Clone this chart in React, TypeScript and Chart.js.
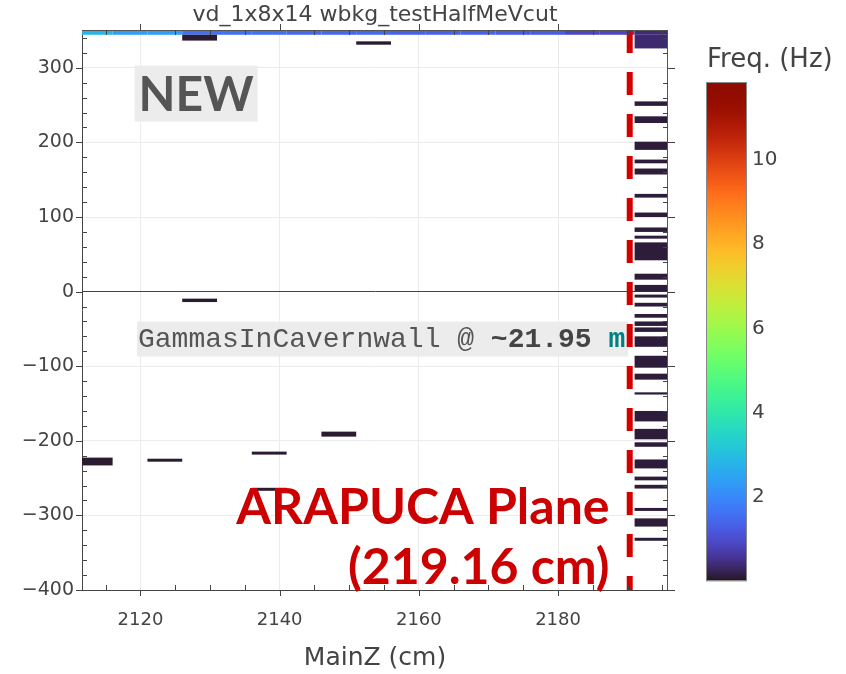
import React, { useEffect, useRef } from "react";
import { Chart, registerables } from "chart.js";
Chart.register(...registerables);

const TITLE = "vd_1x8x14 wbkg_testHalfMeVcut";
const X_TITLE = "MainZ (cm)";
const CB_TITLE = "Freq. (Hz)";
const X_MIN = 2111.6;
const X_MAX = 2195.8;
const Y_MIN = -400;
const Y_MAX = 350.7;
const xTickValues = [2120, 2140, 2160, 2180];
const yTickValues = [-400, -300, -200, -100, 0, 100, 200, 300];
const X_MINOR_STEP = 5;
const Y_MINOR_STEP = 20;
const cbTickValues = [2, 4, 6, 8, 10];
const CB_MIN = 0;
const CB_MAX = 11.85;

// heatmap bin edges along MainZ
const zBinEdges = [2111, 2116, 2121, 2126, 2131, 2136, 2141, 2146, 2151, 2156, 2161, 2166, 2171, 2176, 2181, 2186, 2191, 2196];

// top band (one row across all bins)
const TOP_BAND_LOW = 344.3;
const TOP_BAND_HIGH = 356;
const topBandFreq = [2.8, 2.4, 2.4, 1.6, 1.6, 1.6, 1.45, 1.45, 1.5, 1.35, 1.35, 1.35, 1.25, 1.25, 0.9, 0.9, 0.4];

// isolated cells inside the plot
const cellBin = [3, 8, 3, 0, 2, 5, 7, 5];
const cellYLow = [336.5, 331, -14, -233, -228, -218.5, -194.4, -267];
const cellYHigh = [344.3, 335.5, -9.4, -222.5, -224, -214.5, -187.7, -263];
const cellFreq = [0.08, 0.08, 0.08, 0.08, 0.08, 0.08, 0.08, 0.08];

// wall column (last bin)
const WALL_BIN = 16;
const wallYLow = [326, 249, 226, 190, 172, 157, 126, 100, 80, 71, 42, 16, 0, -8, -20, -35, -46, -54, -74, -102, -118, -138, -174, -198, -208, -237, -253, -264, -294, -315, -334];
const wallYHigh = [344.3, 255, 235, 201, 177, 165, 131, 106, 86, 75, 66, 24, 9, -4, -15, -30, -40, -48, -60, -86, -110, -135, -160, -184, -202, -225, -248, -259, -290, -304, -330];
const wallFreq = [0.35, 0.12, 0.12, 0.12, 0.12, 0.12, 0.12, 0.12, 0.12, 0.12, 0.12, 0.12, 0.12, 0.12, 0.12, 0.12, 0.12, 0.12, 0.12, 0.12, 0.12, 0.12, 0.12, 0.12, 0.12, 0.12, 0.12, 0.12, 0.12, 0.12, 0.12];

// annotations
const PLANE_Z = 2190.3;
const NEW_TEXT = "NEW";
const NEW_POS = { x: 2128.0, y: 265.4 };
const GAMMA_TEXT_A = "GammasInCavernwall @ ";
const GAMMA_TEXT_B = "~21.95";
const GAMMA_TEXT_C = " m";
const GAMMA_POS = { x: 2119.5, y: -64.3 };
const PLANE_LINE1 = "ARAPUCA Plane";
const PLANE_LINE2 = "(219.16 cm)";
const PLANE_POS = { x: 2187.4, y1: -289.5, y2: -370 };

function turbo(t: number) {
  t = Math.max(0, Math.min(1, t));
  const r = 0.13572138 + t * (4.6153926 + t * (-42.66032258 + t * (132.13108234 + t * (-152.94239396 + t * 59.28637943))));
  const g = 0.09140261 + t * (2.19418839 + t * (4.84296658 + t * (-14.18503333 + t * (4.27729857 + t * 2.82956604))));
  const b = 0.1066733 + t * (12.64194608 + t * (-60.58204836 + t * (110.36276771 + t * (-89.90310912 + t * 27.34824973))));
  const c = (v: number) => Math.round(Math.max(0, Math.min(1, v)) * 255);
  return `rgb(${c(r)},${c(g)},${c(b)})`;
}

type Cell = { x: number; y: number; x0: number; x1: number; y0: number; y1: number; v: number };

function buildCells(): Cell[] {
  const out: Cell[] = [];
  const add = (bin: number, y0: number, y1: number, v: number) => {
    const x0 = zBinEdges[bin];
    const x1 = zBinEdges[bin + 1];
    out.push({ x: (x0 + x1) / 2, y: (y0 + y1) / 2, x0, x1, y0, y1, v });
  };
  topBandFreq.forEach((v, i) => add(i, TOP_BAND_LOW, TOP_BAND_HIGH, v));
  cellBin.forEach((b, i) => add(b, cellYLow[i], cellYHigh[i], cellFreq[i]));
  wallYLow.forEach((lo, i) => add(WALL_BIN, lo, wallYHigh[i], wallFreq[i]));
  return out;
}

const FONT = '"DejaVu Sans", Verdana, sans-serif';

const heatmapPlugin = {
  id: "heatmapCells",
  beforeDatasetsDraw(chart: any) {
    const { ctx, chartArea, scales } = chart;
    const xs = scales.x;
    const ys = scales.y;
    ctx.save();
    ctx.beginPath();
    ctx.rect(chartArea.left, chartArea.top, chartArea.right - chartArea.left, chartArea.bottom - chartArea.top);
    ctx.clip();
    const data = chart.data.datasets[0].data as Cell[];
    for (const c of data) {
      const px0 = xs.getPixelForValue(c.x0);
      const px1 = xs.getPixelForValue(c.x1);
      const py0 = ys.getPixelForValue(c.y1);
      const py1 = ys.getPixelForValue(c.y0);
      ctx.fillStyle = turbo((c.v - CB_MIN) / (CB_MAX - CB_MIN));
      ctx.fillRect(px0, py0, px1 - px0, py1 - py0);
    }
    ctx.restore();
  },
  afterDatasetsDraw(chart: any) {
    const { ctx, chartArea, scales } = chart;
    const xs = scales.x;
    const ys = scales.y;
    const { left, right, top, bottom } = chartArea;
    ctx.save();

    // NEW annotation
    ctx.font = `bold 48px Lato, "Open Sans", sans-serif`;
    const nw = ctx.measureText(NEW_TEXT).width;
    const ncx = xs.getPixelForValue(NEW_POS.x);
    const ncy = ys.getPixelForValue(NEW_POS.y);
    ctx.fillStyle = "rgba(235,235,235,0.95)";
    ctx.fillRect(ncx - nw / 2 - 4, ncy - 28, nw + 8, 56);
    ctx.fillStyle = "#555555";
    ctx.textAlign = "center";
    ctx.textBaseline = "middle";
    ctx.fillText(NEW_TEXT, ncx, ncy + 2);

    // Gammas annotation
    const gx = xs.getPixelForValue(GAMMA_POS.x);
    const gy = ys.getPixelForValue(GAMMA_POS.y);
    const mono = '"Courier New", "Liberation Mono", monospace';
    ctx.font = `28px ${mono}`;
    const wa = ctx.measureText(GAMMA_TEXT_A).width;
    ctx.font = `bold 28px ${mono}`;
    const wb = ctx.measureText(GAMMA_TEXT_B).width;
    const wc = ctx.measureText(GAMMA_TEXT_C).width;
    ctx.fillStyle = "rgba(235,235,235,0.95)";
    ctx.fillRect(gx, gy - 18, wa + wb + wc + 4, 35);
    ctx.textAlign = "left";
    ctx.textBaseline = "middle";
    ctx.font = `28px ${mono}`;
    ctx.fillStyle = "#555555";
    ctx.fillText(GAMMA_TEXT_A, gx + 1, gy);
    ctx.font = `bold 28px ${mono}`;
    ctx.fillStyle = "#444444";
    ctx.fillText(GAMMA_TEXT_B, gx + 1 + wa, gy);
    ctx.fillStyle = "#008080";
    ctx.fillText(GAMMA_TEXT_C, gx + 1 + wa + wb, gy);

    // ARAPUCA plane text
    ctx.font = `bold 50px Lato, "Open Sans", sans-serif`;
    ctx.fillStyle = "#cc0000";
    ctx.textAlign = "right";
    ctx.textBaseline = "middle";
    const ax = xs.getPixelForValue(PLANE_POS.x);
    ctx.fillText(PLANE_LINE1, ax, ys.getPixelForValue(PLANE_POS.y1));
    ctx.fillText(PLANE_LINE2, ax, ys.getPixelForValue(PLANE_POS.y2));

    // dashed plane line
    const lx = xs.getPixelForValue(PLANE_Z);
    ctx.strokeStyle = "#d40000";
    ctx.lineWidth = 6;
    ctx.setLineDash([23, 19]);
    ctx.beginPath();
    ctx.moveTo(lx, top);
    ctx.lineTo(lx, bottom);
    ctx.stroke();
    ctx.setLineDash([]);

    // frame & ticks
    ctx.strokeStyle = "#555555";
    ctx.lineWidth = 1;
    ctx.beginPath();
    ctx.moveTo(left, top + 0.5);
    ctx.lineTo(right, top + 0.5);
    ctx.moveTo(right - 0.5, top);
    ctx.lineTo(right - 0.5, bottom);
    ctx.stroke();

    ctx.strokeStyle = "#444444";
    ctx.beginPath();
    for (let v = Math.ceil(X_MIN / X_MINOR_STEP) * X_MINOR_STEP; v <= X_MAX; v += X_MINOR_STEP) {
      const p = Math.round(xs.getPixelForValue(v)) + 0.5;
      if (xTickValues.includes(v)) {
        ctx.moveTo(p, bottom); ctx.lineTo(p, bottom + 6);
        ctx.moveTo(p, top); ctx.lineTo(p, top - 6);
      } else {
        ctx.moveTo(p, bottom); ctx.lineTo(p, bottom - 5);
        ctx.moveTo(p, top); ctx.lineTo(p, top + 5);
      }
    }
    for (let v = Math.ceil(Y_MIN / Y_MINOR_STEP) * Y_MINOR_STEP; v <= Y_MAX; v += Y_MINOR_STEP) {
      const p = Math.round(ys.getPixelForValue(v)) + 0.5;
      if (yTickValues.includes(v)) {
        ctx.moveTo(left, p); ctx.lineTo(left - 6, p);
        ctx.moveTo(right, p); ctx.lineTo(right + 7, p);
      } else {
        ctx.moveTo(left, p); ctx.lineTo(left + 5, p);
        ctx.moveTo(right, p); ctx.lineTo(right - 5, p);
      }
    }
    ctx.stroke();

    // title
    ctx.fillStyle = "#444444";
    ctx.font = `22px ${FONT}`;
    ctx.textAlign = "center";
    ctx.textBaseline = "middle";
    ctx.fillText(TITLE, (left + right) / 2, 15);
    ctx.restore();
  },
  afterDraw(chart: any) {
    const { ctx, chartArea } = chart;
    const cbLeft = chartArea.right + 38;
    const cbWidth = 41;
    const cbTop = 82;
    const cbBottom = 581;
    ctx.save();
    const h = cbBottom - cbTop;
    for (let i = 0; i < h; i++) {
      const t = 1 - (i + 0.5) / h;
      ctx.fillStyle = turbo(t);
      ctx.fillRect(cbLeft, cbTop + i, cbWidth, 1.2);
    }
    ctx.strokeStyle = "#888888";
    ctx.lineWidth = 1;
    ctx.strokeRect(cbLeft + 0.5, cbTop + 0.5, cbWidth - 1, h - 1);
    ctx.fillStyle = "#444444";
    ctx.font = `20px ${FONT}`;
    ctx.textAlign = "left";
    ctx.textBaseline = "middle";
    for (const v of cbTickValues) {
      const y = cbBottom - ((v - CB_MIN) / (CB_MAX - CB_MIN)) * h;
      ctx.fillText(String(v), cbLeft + cbWidth + 5, y);
    }
    ctx.font = `26px ${FONT}`;
    ctx.textAlign = "left";
    ctx.fillText(CB_TITLE, cbLeft + 1, 60);
    ctx.restore();
  },
};

export default function App() {
  const ref = useRef<HTMLCanvasElement | null>(null);
  useEffect(() => {
    if (!ref.current) return;
    const cells = buildCells();
    const chart = new Chart(ref.current, {
      type: "scatter",
      data: {
        datasets: [
          {
            label: "Freq",
            data: cells as any,
            pointRadius: 0,
            pointHoverRadius: 0,
            showLine: false,
          },
        ],
      },
      options: {
        animation: false,
        responsive: false,
        maintainAspectRatio: false,
        layout: { padding: { left: 0, right: 178, top: 30, bottom: 0 } },
        plugins: {
          legend: { display: false },
          tooltip: { enabled: false },
          title: { display: false },
        },
        scales: {
          x: {
            type: "linear",
            min: X_MIN,
            max: X_MAX,
            afterBuildTicks: (s: any) => {
              s.ticks = xTickValues.map((v) => ({ value: v }));
            },
            afterFit: (s: any) => {
              s.height = 84;
            },
            grid: { color: "#ebebeb", drawTicks: false },
            border: { display: true, color: "#444444", width: 1 },
            ticks: {
              color: "#444444",
              font: { family: FONT, size: 18 },
              padding: 20,
              maxRotation: 0,
              autoSkip: false,
              callback: (v: any) => String(v),
            },
            title: {
              display: true,
              text: X_TITLE,
              color: "#444444",
              font: { family: FONT, size: 25 },
              padding: { top: 0, bottom: 1 },
            },
          },
          y: {
            type: "linear",
            min: Y_MIN,
            max: Y_MAX,
            afterBuildTicks: (s: any) => {
              s.ticks = yTickValues.map((v) => ({ value: v }));
            },
            afterFit: (s: any) => {
              s.width = 82;
            },
            grid: {
              color: (c: any) => (c.tick && c.tick.value === 0 ? "#444444" : "#ebebeb"),
              drawTicks: false,
            },
            border: { display: true, color: "#444444", width: 1 },
            ticks: {
              color: "#444444",
              font: { family: FONT, size: 19 },
              padding: 8,
              autoSkip: false,
              callback: (v: any) => String(v).replace("-", "\u2212"),
            },
          },
        },
      } as any,
      plugins: [heatmapPlugin],
    });
    return () => chart.destroy();
  }, []);
  return (
    <div style={{ position: "absolute", left: 0, top: 0, width: 846, height: 674, background: "#fff" }}>
      <canvas ref={ref} width={846} height={674} style={{ display: "block", width: 846, height: 674 }} />
    </div>
  );
}
